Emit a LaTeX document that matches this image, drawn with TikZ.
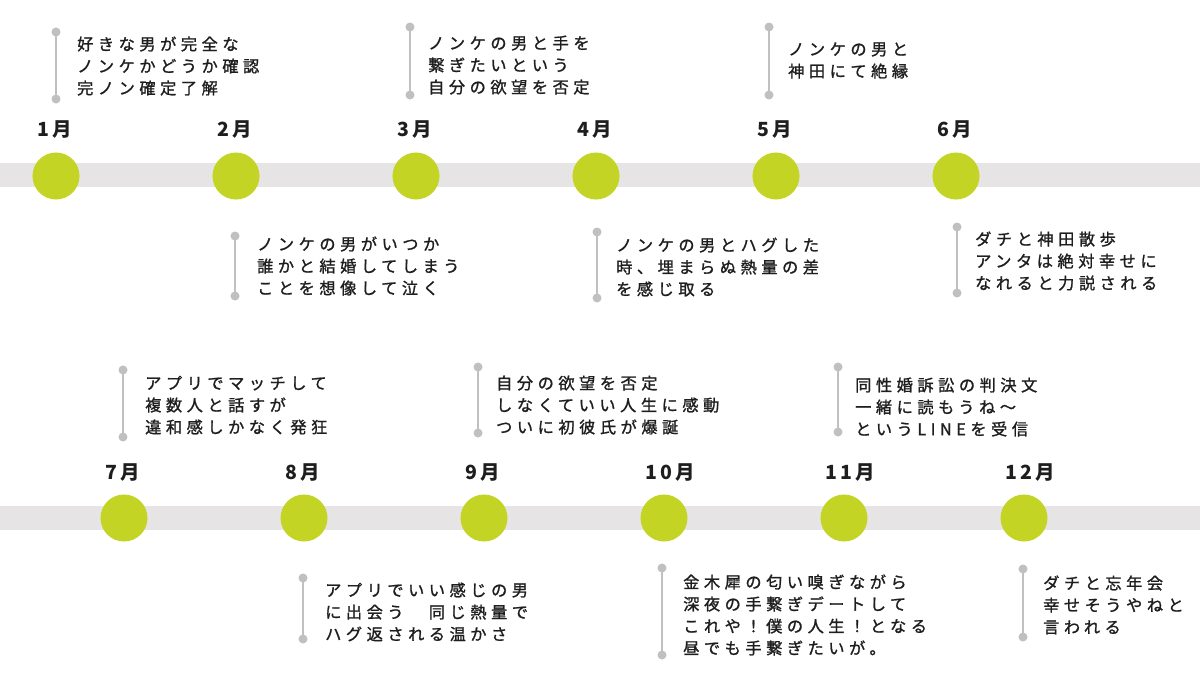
\documentclass[tikz,border=0pt]{standalone}
\usepackage{fontspec}
\newfontfamily\cjk{Noto Sans CJK JP}[LetterSpace=28,FakeBold=1.2]
\newfontfamily\cjkm{Noto Sans CJK JP}[LetterSpace=18]
\definecolor{lime}{HTML}{C3D424}
\definecolor{bandgray}{HTML}{E6E4E5}
\definecolor{brgray}{HTML}{C0C0C0}
\definecolor{ink}{HTML}{1E1E1E}
\tikzset{
  band/.style={fill=bandgray, draw=none},
  dot/.style={circle, fill=lime, draw=none, minimum size=47pt, inner sep=0pt},
  mon/.style={font=\cjkm\bfseries\fontsize{19.5}{21}\selectfont, anchor=west, text=ink, inner sep=0pt},
  ev/.style={font=\cjk\fontsize{16.2}{22}\selectfont, align=left, anchor=north west, inner sep=0pt, text=ink},
  br/.style={draw=brgray, line width=2.7pt},
  brend/.style={circle, fill=brgray, draw=none, minimum size=9pt, inner sep=0pt},
}
\newcommand{\fl}{\rule{0pt}{14pt}}
\begin{document}
\begin{tikzpicture}[x=1pt, y=-1pt]
\fill[white] (0,0) rectangle (1200,675);
\useasboundingbox (0,0) rectangle (1200,675);
% bands
\fill[band] (0,163) rectangle (1200,187);
\fill[band] (0,506) rectangle (1200,530);
% circles and months row 1
\foreach \i/\x/\m in {1/56/1月, 2/236/2月, 3/416/3月, 4/596/4月, 5/776/5月, 6/956/6月}{
  \node[dot] (c\i) at (\x,176) {};
  \node[mon] (m\i) at (\x-19,130) {\m};
}
% row 2
\foreach \i/\x/\m in {7/124/7月, 8/304/8月, 9/484/9月, 10/664/10月, 11/844/11月, 12/1024/12月}{
  \node[dot] (c\i) at (\x,518) {};
  \node[mon] (m\i) at (\x-19,473) {\m};
}
% brackets
\foreach \i/\x/\a/\b in {1/56/32/99, 2/235/236/296, 3/410/27/95, 4/597/232/298, 5/769/27/95, 6/957/227/293,
                         7/123/370/437, 8/303/578/639, 9/478/367/433, 10/662/568/655, 11/838/367/432, 12/1023/569/637}{
  \node[brend] (t\i) at (\x,\a) {};
  \node[brend] (b\i) at (\x,\b) {};
  \draw[br] (t\i.center) -- (b\i.center);
}
% events
\node[ev] (e1) at (77,36) {\fl 好きな男が完全な\\ノンケかどうか確認\\完ノン確定了解};
\node[ev] (e2) at (257,236) {\fl ノンケの男がいつか\\誰かと結婚してしまう\\ことを想像して泣く};
\node[ev] (e3) at (428,35) {\fl ノンケの男と手を\\繋ぎたいという\\自分の欲望を否定};
\node[ev] (e4) at (616,237) {\fl ノンケの男とハグした\\時、埋まらぬ熱量の差\\を感じ取る};
\node[ev] (e5) at (788,41) {\fl ノンケの男と\\神田にて絶縁};
\node[ev] (e6) at (975,231) {\fl ダチと神田散歩\\アンタは絶対幸せに\\なれると力説される};
\node[ev] (e7) at (145,375) {\fl アプリでマッチして\\複数人と話すが\\違和感しかなく発狂};
\node[ev] (e8) at (325,582) {\fl アプリでいい感じの男\\に出会う　同じ熱量で\\ハグ返される温かさ};
\node[ev] (e9) at (496,375) {\fl 自分の欲望を否定\\しなくていい人生に感動\\ついに初彼氏が爆誕};
\node[ev] (e10) at (683,574) {\fl 金木犀の匂い嗅ぎながら\\深夜の手繋ぎデートして\\これや！僕の人生！となる\\昼でも手繋ぎたいが。};
\node[ev] (e11) at (855,377) {\fl 同性婚訴訟の判決文\\一緒に読もうね〜\\というLINEを受信};
\node[ev] (e12) at (1043,575) {\fl ダチと忘年会\\幸せそうやねと\\言われる};
\end{tikzpicture}
\end{document}
